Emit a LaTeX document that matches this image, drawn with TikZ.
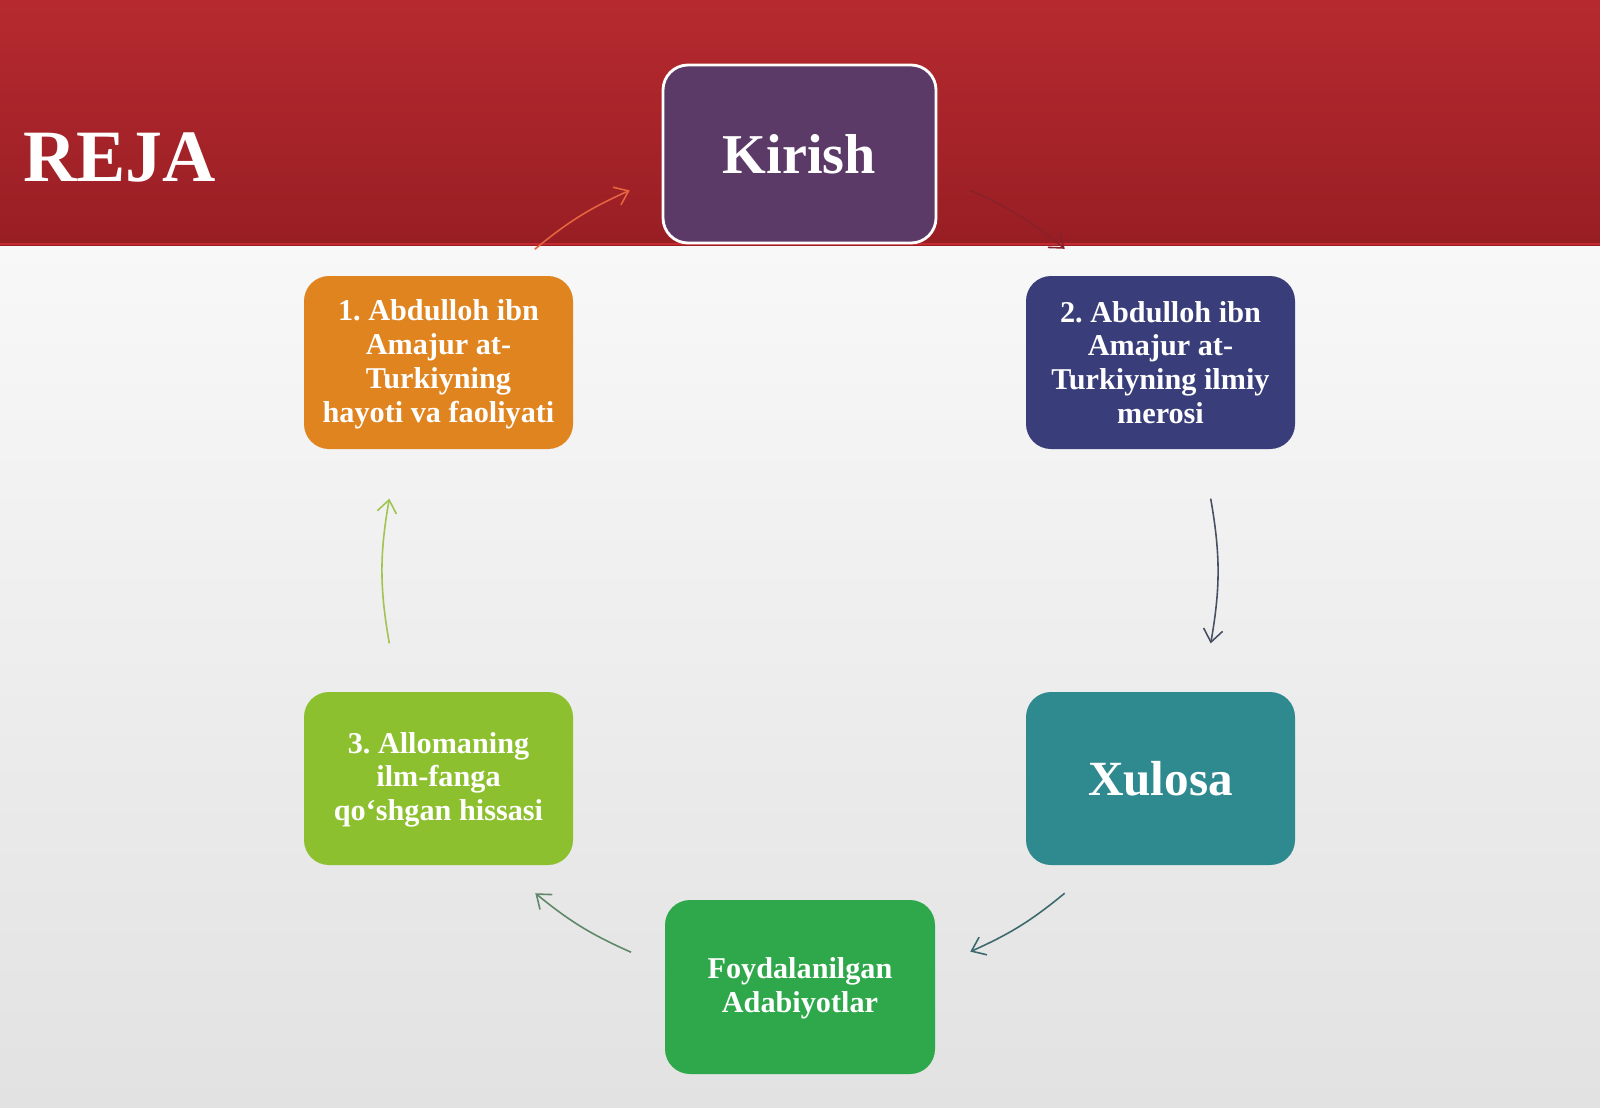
\documentclass[tikz,border=0pt]{standalone}
\usepackage{fontspec}
\setmainfont{Liberation Serif}
\usepackage{tikz}
\usetikzlibrary{arrows.meta,calc,positioning}
\frenchspacing
\definecolor{bandTop}{RGB}{182,42,47}
\definecolor{bandBot}{RGB}{152,30,36}
\definecolor{bandLine}{RGB}{196,43,48}
\definecolor{paperTop}{RGB}{248,248,248}
\definecolor{paperBot}{RGB}{226,226,226}
\definecolor{kirishFill}{RGB}{91,58,103}
\definecolor{hayotFill}{RGB}{224,132,31}
\definecolor{merosFill}{RGB}{57,62,122}
\definecolor{xulosaFill}{RGB}{47,138,143}
\definecolor{adabFill}{RGB}{46,168,74}
\definecolor{hissaFill}{RGB}{141,192,47}
\definecolor{arrowA}{RGB}{230,100,64}
\definecolor{arrowB}{RGB}{138,32,42}
\definecolor{arrowC}{RGB}{74,80,100}
\definecolor{arrowD}{RGB}{60,105,110}
\definecolor{arrowE}{RGB}{95,135,105}
\definecolor{arrowF}{RGB}{160,196,80}
\tikzstyle{edge}   =[line width=0.45pt,
                     -{Straight Barb[length=3.6pt,width=5.5pt]}]
\tikzstyle{planbox}=[rounded corners=0.25cm, inner sep=0pt,
                     minimum width=2.69cm, minimum height=1.73cm,
                     align=center, text=white,
                     font=\bfseries\fontsize{8.6}{9.6}\selectfont]
\tikzstyle{bigbox} =[planbox, font=\bfseries\fontsize{16}{19}\selectfont]
\begin{document}
\begin{tikzpicture}
\useasboundingbox (0,0) rectangle (16,11.07);
%%%%%%%%%%%%%%%%%%%%%%%%%%%%%%%%%%%%%%%%%%%%%%%%
%%%%%%%%%%         Background         %%%%%%%%%%
%%%%%%%%%%%%%%%%%%%%%%%%%%%%%%%%%%%%%%%%%%%%%%%%
\shade[top color=paperTop,bottom color=paperBot] (0,0) rectangle (16,8.62);
\shade[top color=bandTop,bottom color=bandBot] (0,8.62) rectangle (16,11.07);
\draw[bandLine,line width=0.8pt] (0,8.63) -- (16,8.63);

\node (reja) [anchor=base west,inner sep=0pt,text=white,
              font=\bfseries\fontsize{21}{24}\selectfont] at (0.225,9.26){REJA};

%%%%%%%%%%%%%%%%%%%%%%%%%%%%%%%%%%%%%%%%%%%%%%%%
%%%%%%%%%%           Arrows           %%%%%%%%%%
%%%%%%%%%%%%%%%%%%%%%%%%%%%%%%%%%%%%%%%%%%%%%%%%
\coordinate (c) at (8.00,5.36);
% start angle / end angle / bend / colour
\foreach \s/\e/\b/\col [count=\i] in {129.5/114.1/7.7/arrowA,
                                      65.9/50.6/7.7/arrowB,
                                      10/-10/10/arrowC,
                                      -50.6/-65.9/7.7/arrowD,
                                      246.1/230.6/7.7/arrowE,
                                      190/170/10/arrowF}{
	\coordinate (s\i) at ([shift={(\s:4.17)}]c);
	\coordinate (e\i) at ([shift={(\e:4.17)}]c);
	\draw [edge,draw=\col] (s\i) to[bend left=\b] (e\i);
}

%%%%%%%%%%%%%%%%%%%%%%%%%%%%%%%%%%%%%%%%%%%%%%%%
%%%%%%%%%%           Boxes            %%%%%%%%%%
%%%%%%%%%%%%%%%%%%%%%%%%%%%%%%%%%%%%%%%%%%%%%%%%
\node (kirish) [bigbox,fill=kirishFill,draw=white,line width=0.8pt,
                minimum width=2.73cm,minimum height=1.78cm] at (7.995,9.53){Kirish};
\node (hayot)  [planbox,fill=hayotFill,text depth=0.9pt] at (4.385,7.445)
	{1. Abdulloh ibn\\Amajur at-\\Turkiyning\\hayoti va faoliyati};
\node (meros)  [planbox,fill=merosFill] at (11.605,7.445)
	{2. Abdulloh ibn\\Amajur at-\\Turkiyning ilmiy\\merosi};
\node (xulosa) [bigbox,fill=xulosaFill,
                font=\bfseries\fontsize{14}{17}\selectfont] at (11.605,3.285){Xulosa};
\node (adab)   [planbox,fill=adabFill,minimum width=2.70cm,
                minimum height=1.74cm] at (8.00,1.20)
	{\strut Foydalanilgan\\Adabiyotlar};
\node (hissa)  [planbox,fill=hissaFill] at (4.385,3.285)
	{\strut 3. Allomaning\\ilm-fanga\\qo‘shgan hissasi};

\end{tikzpicture}
\end{document}
